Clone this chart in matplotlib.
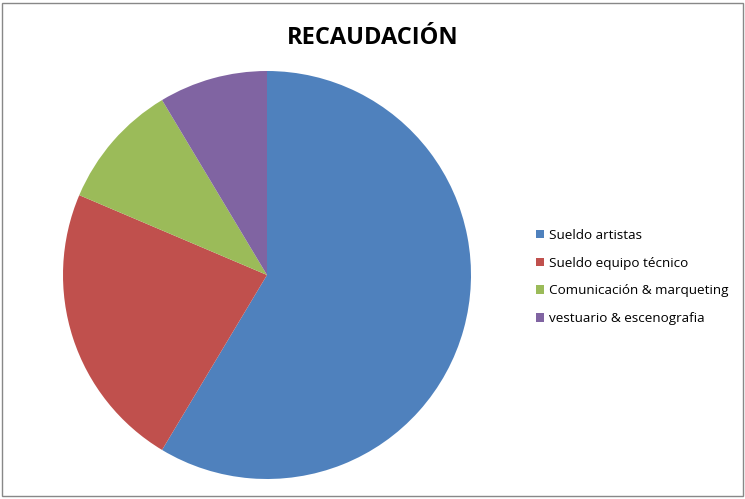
import matplotlib
matplotlib.use('Agg')
import matplotlib.pyplot as plt
from matplotlib.patches import Rectangle

# data (share of total, %)
labels = ['Sueldo artistas', 'Sueldo equipo técnico',
          'Comunicación & marqueting', 'vestuario & escenografia']
values = [58.6, 22.8, 10.0, 8.6]
colors = ['#4F81BD', '#C0504D', '#9BBB59', '#8064A2']

plt.rcParams['font.family'] = ['Open Sans', 'DejaVu Sans']

fig = plt.figure(figsize=(7.45, 4.99), dpi=100)

# pie centre ~ (267, 275) px, radius ~ 204 px
cx, cy, r = 267, 275, 204
ax = fig.add_axes([(cx - r) / 745, (499 - cy - r) / 499, 2 * r / 745, 2 * r / 499])
wedges, _ = ax.pie(values, colors=colors, startangle=90, counterclock=False,
                   radius=1, wedgeprops=dict(linewidth=0))
ax.set_xlim(-1, 1)
ax.set_ylim(-1, 1)
ax.set_aspect('equal')
ax.axis('off')

fig.text(373 / 745, 1 - 38 / 499, 'RECAUDACIÓN', ha='center', va='center',
         fontsize=17, fontweight='bold')

fig.legend(wedges, labels, loc='upper left',
           bbox_to_anchor=(529 / 745, 1 - 222 / 499), frameon=False,
           fontsize=9.7, handlelength=0.6, handleheight=0.6,
           handletextpad=0.4, labelspacing=1.1, borderpad=0)

fig.patches.append(Rectangle((2 / 745, 3 / 499), 741 / 745, 493 / 499,
                             transform=fig.transFigure, fill=False,
                             edgecolor='#888888', linewidth=1))

fig.savefig('out.png', dpi=100)
